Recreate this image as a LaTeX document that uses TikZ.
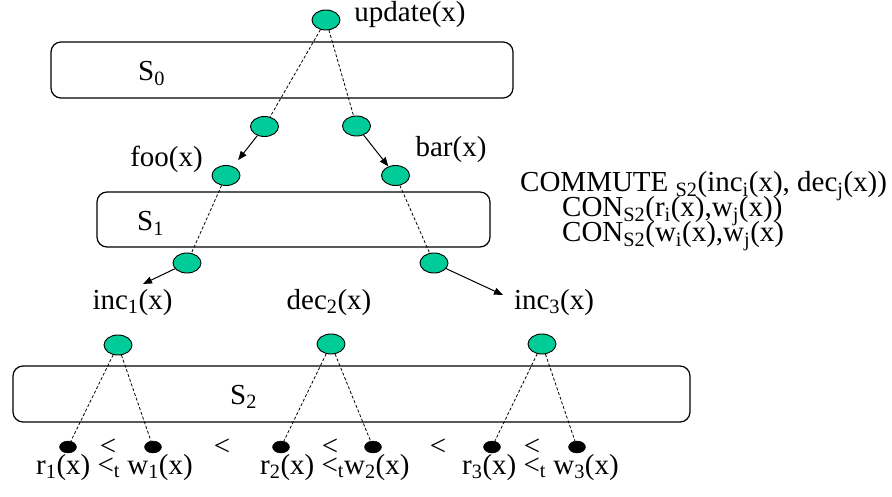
\documentclass[tikz,border=0pt]{standalone}
\usepackage{fontspec}
\setmainfont{Liberation Serif}
\usepackage{tikz}
\usetikzlibrary{arrows.meta, positioning, shapes.geometric}
\definecolor{opgreen}{HTML}{00CC99}

\begin{document}
\begin{tikzpicture}[
  x=1pt, y=-1pt,
  >={Triangle[length=9pt,width=7pt]},
  font=\fontsize{29}{33}\selectfont,
  op/.style={ellipse, draw, line width=0.9pt, fill=opgreen, minimum width=28pt, minimum height=20pt, inner sep=0pt},
  acc/.style={ellipse, draw, fill=black, minimum width=17pt, minimum height=12pt, inner sep=0pt},
  level/.style={rectangle, draw, line width=1.2pt, rounded corners=10pt},
  lbl/.style={inner sep=0pt, anchor=base west},
  clbl/.style={inner sep=0pt, anchor=base},
  link/.style={dash pattern=on 3pt off 2pt, line width=0.8pt},
  call/.style={->, line width=1pt}
]
\useasboundingbox (0,0) rectangle (892,497);

% Levels
\node[level, minimum width=462pt, minimum height=56pt] (s0box) at (282,70) {};
\node[level, minimum width=393pt, minimum height=55pt] (s1box) at (293.5,219.5) {};
\node[level, minimum width=677pt, minimum height=56pt] (s2box) at (351.5,394) {};
\node[lbl] (s0) at (138,81) {S\textsubscript{0}};
\node[lbl] (s1) at (137,231) {S\textsubscript{1}};
\node[lbl] (s2) at (230,404) {S\textsubscript{2}};

% Top level
\node[op] (update) at (326,20) {};
\node[clbl] (updatelbl) at (410,22) {update(x)};
\node[op] (midl) at (264.5,126.5) {};
\node[op] (midr) at (356.5,126) {};

% Second level
\node[op] (foo) at (226,175.5) {};
\node[op] (bar) at (395.5,175.5) {};
\node[clbl] (foolbl) at (166.5,167) {foo(x)};
\node[clbl] (barlbl) at (451,157) {bar(x)};
\node[op] (incl) at (187,263) {};
\node[op] (incr) at (434,263) {};
\coordinate (inc1tip) at (143,284);
\coordinate (inc3tip) at (503,295);

% Third level
\node[clbl] (inc1) at (132.5,309) {inc\textsubscript{1}(x)};
\node[clbl] (dec2) at (329,309) {dec\textsubscript{2}(x)};
\node[clbl] (inc3) at (554,309) {inc\textsubscript{3}(x)};
\node[op] (op1) at (118,345) {};
\node[op] (op2) at (331,344) {};
\node[op] (op3) at (542,344) {};

% Reads and writes
\node[acc] (r1) at (68,447) {};
\node[acc] (w1) at (153,447) {};
\node[acc] (r2) at (281,447) {};
\node[acc] (w2) at (373,447) {};
\node[acc] (r3) at (492,447) {};
\node[acc] (w3) at (577,447) {};
\foreach \x/\n in {108/a, 222/b, 330/c, 438/d, 532/e}
  \node[clbl] (lt\n) at (\x,455) {<};
\node[lbl] (rw1) at (36,474) {r\textsubscript{1}(x) <\textsubscript{t} w\textsubscript{1}(x)};
\node[lbl] (rw2) at (260,474) {r\textsubscript{2}(x) <\textsubscript{t}w\textsubscript{2}(x)};
\node[lbl] (rw3) at (462,474) {r\textsubscript{3}(x) <\textsubscript{t} w\textsubscript{3}(x)};

% Conflict relations
\node[lbl] (commute) at (520,192) {COMMUTE \textsubscript{S2}(inc\textsubscript{i}(x), dec\textsubscript{j}(x))};
\node[lbl] (conrw) at (562,217) {CON\textsubscript{S2}(r\textsubscript{i}(x),w\textsubscript{j}(x))};
\node[lbl] (conww) at (562,242) {CON\textsubscript{S2}(w\textsubscript{i}(x),w\textsubscript{j}(x)};

% Links
\draw[link] (update) -- (midl);
\draw[link] (update) -- (midr);
\draw[link] (foo) -- (incl);
\draw[link] (bar) -- (incr);
\draw[link] (op1) -- (r1);
\draw[link] (op1) -- (w1);
\draw[link] (op2) -- (r2);
\draw[link] (op2) -- (w2);
\draw[link] (op3) -- (r3);
\draw[link] (op3) -- (w3);

% Arrows
\draw[call, shorten >=8pt] (midl) -- (foo);
\draw[call] (midr) -- (bar);
\draw[call] (incl) -- (inc1tip);
\draw[call] (incr) -- (inc3tip);

\end{tikzpicture}
\end{document}
